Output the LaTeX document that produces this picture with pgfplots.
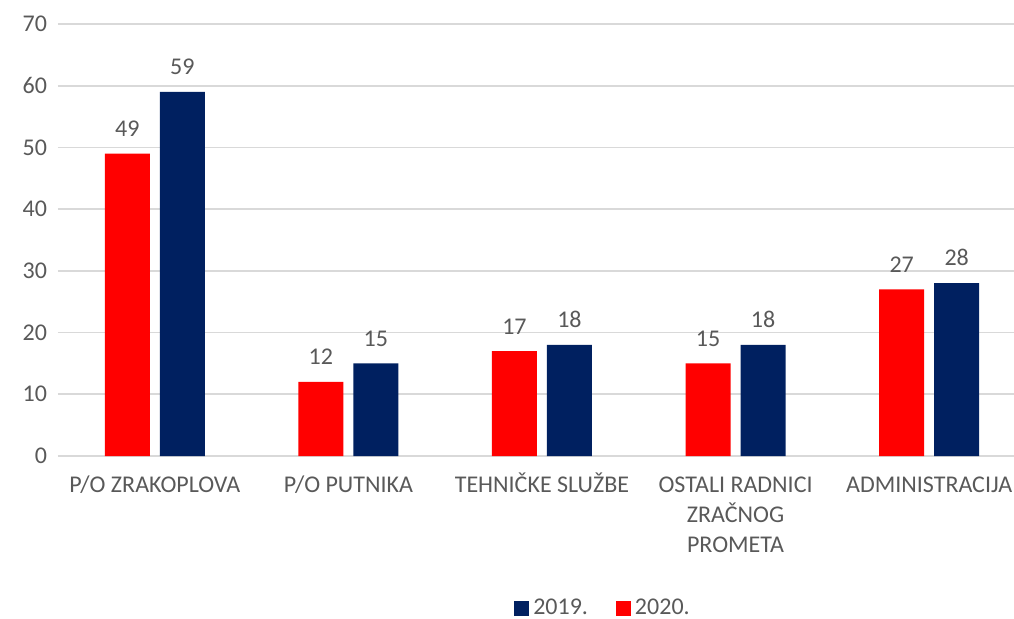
\documentclass[border=0pt]{standalone}
\usepackage{fontspec}
\setmainfont{Carlito}
\usepackage{pgfplots}
\pgfplotsset{compat=1.18}
\definecolor{red20}{HTML}{FF0000}
\definecolor{navy19}{HTML}{002060}
\definecolor{txt}{HTML}{595959}
\definecolor{gridc}{HTML}{D9D9D9}
\newcommand{\hs}{\vphantom{Č}}

\begin{document}
\begin{tikzpicture}
\path[use as bounding box] (-29pt,-81pt) rectangle (478pt,228pt);
\begin{axis}[
    scale only axis,
    width=484pt, height=216pt,
    ybar=5pt, bar width=22.5pt,
    xmin=-0.5, xmax=4.5,
    ymin=0, ymax=70,
    ytick={0,10,...,70},
    xtick=data,
    xticklabels={\hs P/O ZRAKOPLOVA, \hs P/O PUTNIKA, \hs TEHNIČKE SLUŽBE, {\hs OSTALI RADNICI\\ZRAČNOG\\PROMETA}, \hs ADMINISTRACIJA},
    x tick label style={align=center, font=\fontsize{12}{15}\selectfont, text=txt, yshift=-5pt},
    y tick label style={font=\fontsize{12}{14}\selectfont, text=txt, xshift=-2pt},
    /pgf/number format/assume math mode=true,
    major tick length=0pt,
    axis line style={draw=none},
    ymajorgrids,
    grid style={gridc, line width=0.8pt},
    nodes near coords,
    nodes near coords style={font=\fontsize{12}{14}\selectfont, text=txt, yshift=5pt},
    reverse legend,
    legend columns=2,
    legend style={at={(273pt,-76pt)}, anchor=center, draw=none, fill=none,
        font=\fontsize{12}{14}\selectfont, text=txt,
        /tikz/every even column/.append style={column sep=12pt}},
    legend image code/.code={\fill (0pt,-3.75pt) rectangle (7.5pt,3.75pt);},
]
\addplot[fill=red20, draw=none] coordinates {(0,49) (1,12) (2,17) (3,15) (4,27)};
\addplot[fill=navy19, draw=none] coordinates {(0,59) (1,15) (2,18) (3,18) (4,28)};
\legend{2020., 2019.}
\end{axis}
\end{tikzpicture}
\end{document}
